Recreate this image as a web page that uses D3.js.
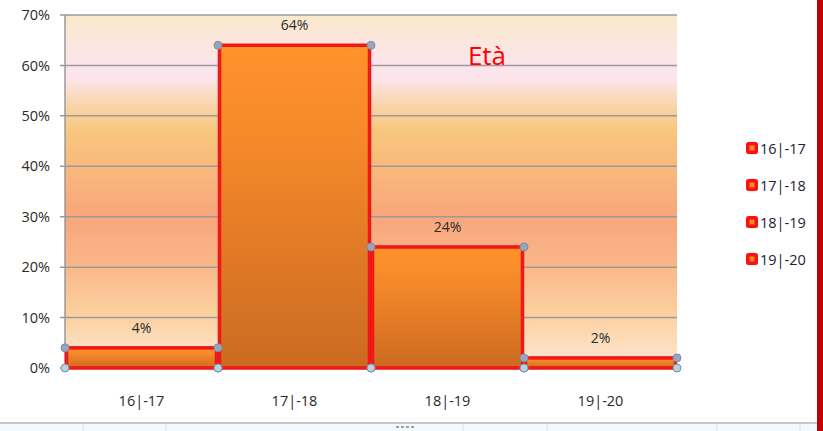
<!DOCTYPE html>
<html><head><meta charset="utf-8">
<script src="https://cdn.jsdelivr.net/npm/d3@7/dist/d3.min.js"></script>
<style>
html,body{margin:0;padding:0;background:#fff;}
svg{display:block;}
text{font-family:"Open Sans","Noto Sans",sans-serif;}
</style></head>
<body>
<svg id="c" width="823" height="431"></svg>
<script>
const categories = ["16|-17","17|-18","18|-19","19|-20"];
const values = [4, 64, 24, 2];
const valueLabels = ["4%","64%","24%","2%"];
const yTicks = [0,10,20,30,40,50,60,70];
const title = "Età";

const svg = d3.select("#c");
const W = 823, H = 431;
const m = {left:65, right:146, top:15, bottom:63};
const pw = 677 - m.left, ph = 368 - m.top;

const defs = svg.append("defs");
const bg = defs.append("linearGradient").attr("id","bg").attr("x1",0).attr("y1",0).attr("x2",0).attr("y2",1);
[[0,"#FAE9CB"],[0.14,"#FCE4EC"],[0.18,"#FDE5EC"],[0.25,"#F9D6AE"],[0.33,"#F8C67C"],[0.45,"#F8B67C"],[0.57,"#F9A67C"],[0.7,"#F9B588"],[0.83,"#FBCD9B"],[0.92,"#FCDCB8"],[1,"#FDE4D6"]]
  .forEach(([o,c])=>bg.append("stop").attr("offset",o).attr("stop-color",c));
const bar = defs.append("linearGradient").attr("id","bar").attr("x1",0).attr("y1",0).attr("x2",0).attr("y2",1);
[[0,"#FF922A"],[0.3,"#F5892A"],[1,"#CB6A21"]].forEach(([o,c])=>bar.append("stop").attr("offset",o).attr("stop-color",c));

// bottom spreadsheet strip
svg.append("rect").attr("x",0).attr("y",423).attr("width",W).attr("height",8).attr("fill","#F2FAFB");
svg.append("line").attr("x1",0).attr("x2",W).attr("y1",423).attr("y2",423).attr("stroke","#C8C8C8").attr("stroke-width",2);
[83,166,463,547,717,800].forEach(x=>svg.append("line").attr("x1",x).attr("x2",x).attr("y1",424).attr("y2",431).attr("stroke","#D8E2E6"));
[396,401,406,411].forEach(x=>svg.append("rect").attr("x",x).attr("y",426).attr("width",3).attr("height",2).attr("fill","#A0A0A0"));
// right red border
svg.append("rect").attr("x",817).attr("y",0).attr("width",6).attr("height",431).attr("fill","#C00000");

const g = svg.append("g").attr("transform",`translate(${m.left},${m.top})`);
const x = d3.scaleBand().domain(categories).range([0,pw]).padding(0);
const y = d3.scaleLinear().domain([0,70]).range([ph,0]);

g.append("rect").attr("width",pw).attr("height",ph).attr("fill","url(#bg)");

// grid
g.selectAll(".grid").data(yTicks).join("line")
  .attr("x1",-5).attr("x2",pw).attr("y1",d=>y(d)).attr("y2",d=>y(d))
  .attr("stroke","#9A9A9A").attr("stroke-width",1.5);
g.append("line").attr("x1",0).attr("x2",0).attr("y1",0).attr("y2",ph).attr("stroke","#9A9A9A").attr("stroke-width",1.5);

// y axis labels
const yAxis = d3.axisLeft(y).tickValues(yTicks).tickFormat(d=>d+"%").tickSize(0).tickPadding(15);
const ya = g.append("g").call(yAxis);
ya.select(".domain").remove();
ya.selectAll("text").attr("font-size",14.5).attr("fill","#2a2a2a").style("font-family","'Open Sans',sans-serif");

// x axis labels
const xAxis = d3.axisBottom(x).tickSize(0).tickPadding(28);
const xa = g.append("g").attr("transform",`translate(0,${ph})`).call(xAxis);
xa.select(".domain").remove();
xa.selectAll("text").attr("font-size",14.5).attr("fill","#2a2a2a").style("font-family","'Open Sans',sans-serif");

// bars
const data = categories.map((c,i)=>({c, v:values[i], l:valueLabels[i]}));
g.selectAll(".bar").data(data).join("rect")
  .attr("x",d=>x(d.c)+1.5).attr("y",d=>y(d.v))
  .attr("width",x.bandwidth()-3).attr("height",d=>ph-y(d.v))
  .attr("fill","url(#bar)").attr("stroke","#FA1010").attr("stroke-width",3.5);
g.selectAll(".bari").data(data).join("rect")
  .attr("x",d=>x(d.c)+1.5).attr("y",d=>y(d.v))
  .attr("width",x.bandwidth()-3).attr("height",d=>ph-y(d.v))
  .attr("fill","none").attr("stroke","#B84040").attr("stroke-width",0.8).attr("opacity",0.6);

// corner markers
const pts = [];
data.forEach(d=>{
  pts.push({px:x(d.c), py:y(d.v), top:true});
  pts.push({px:x(d.c)+x.bandwidth(), py:y(d.v), top:true});
  pts.push({px:x(d.c), py:y(0), top:false});
  pts.push({px:x(d.c)+x.bandwidth(), py:y(0), top:false});
});
g.selectAll(".pt").data(pts).join("circle")
  .attr("cx",d=>d.px).attr("cy",d=>d.py).attr("r",4)
  .attr("fill",d=>d.top?"#9AA5B8":"#B9D2DE").attr("stroke","#7890AA").attr("stroke-width",1);

// value labels
g.selectAll(".vl").data(data).join("text")
  .attr("x",d=>x(d.c)+x.bandwidth()/2).attr("y",d=>y(d.v)-15)
  .attr("text-anchor","middle").attr("font-size",14).attr("fill","#2a2a2a").text(d=>d.l);

// title
g.append("text").attr("x",487-m.left).attr("y",65-m.top).attr("text-anchor","middle")
  .attr("font-size",26).attr("fill","#FF0000").text(title);

// legend
const lg = svg.append("g").attr("transform","translate(746,148)");
const li = lg.selectAll("g").data(categories).join("g").attr("transform",(d,i)=>`translate(0,${i*37})`);
li.append("rect").attr("x",0).attr("y",-6).attr("width",12).attr("height",12).attr("rx",2.5).attr("fill","#FF1010");
li.append("rect").attr("x",3.5).attr("y",-2.5).attr("width",5).attr("height",5).attr("fill","#F08A2A");
li.append("text").attr("x",14).attr("y",5.5).attr("font-size",14.5).attr("fill","#1f2233").text(d=>d);
</script>
</body></html>
